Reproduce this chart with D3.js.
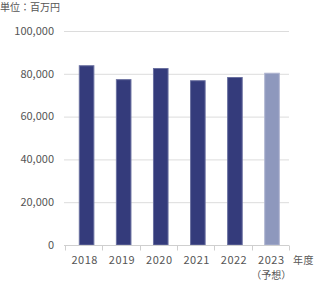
<!DOCTYPE html>
<html>
  <head>
    <meta charset="utf-8">
    <style>
    body {
      font-family: "Noto Sans CJK JP", "Noto Sans", sans-serif;
      margin: 0;
      background: #fff;
    }
    </style>
  </head>
  <body>
    <script src="https://d3js.org/d3.v7.min.js"></script>
    <script>
    var years = ["2018", "2019", "2020", "2021", "2022", "2023"];
    var subLabels = ["", "", "", "", "", "（予想）"];
    var values = [84000, 77500, 82700, 77000, 78500, 80500];
    var forecast = [false, false, false, false, false, true];
    var yTicks = [0, 20000, 40000, 60000, 80000, 100000];

    var width = 320, height = 290;
    var margin = {top: 31, right: 31, bottom: 45, left: 65};

    var svg = d3.select("body").append("svg")
        .attr("width", width)
        .attr("height", height);

    var x = d3.scaleBand()
        .domain(years)
        .range([margin.left, width - margin.right])
        .paddingInner(0.58)
        .paddingOuter(0.31)
        .align(0.6);

    var y = d3.scaleLinear()
        .domain([0, 100000])
        .range([height - margin.bottom, margin.top]);

    // gridlines
    svg.append("g")
        .selectAll("line")
        .data(yTicks.slice(1))
        .enter().append("line")
        .attr("x1", margin.left - 1)
        .attr("x2", width - margin.right)
        .attr("y1", function(d) { return y(d) + 0.5; })
        .attr("y2", function(d) { return y(d) + 0.5; })
        .attr("stroke", "#dcdcdc")
        .attr("stroke-width", 1);

    // y labels
    svg.append("g")
        .selectAll("text")
        .data(yTicks)
        .enter().append("text")
        .attr("x", 54)
        .attr("y", function(d) { return y(d); })
        .attr("dy", "0.35em")
        .attr("text-anchor", "end")
        .style("font-size", "11px")
        .style("fill", "#555")
        .text(function(d) { return d3.format(",")(d); });

    // bars
    svg.append("g")
        .selectAll("rect")
        .data(values)
        .enter().append("rect")
        .attr("x", function(d, i) { return x(years[i]) + 0.5; })
        .attr("y", function(d) { return y(d) + 0.5; })
        .attr("width", x.bandwidth() - 1)
        .attr("height", function(d) { return y(0) - y(d) - 0.5; })
        .attr("fill", function(d, i) { return forecast[i] ? "#8e98bd" : "#343b7b"; })
        .attr("stroke", function(d, i) { return forecast[i] ? "#aeb4d0" : "#6a70a0"; })
        .attr("stroke-width", 1);

    // baseline + ticks
    var base = y(0) + 0.5;
    svg.append("line")
        .attr("x1", margin.left - 1)
        .attr("x2", width - margin.right)
        .attr("y1", base).attr("y2", base)
        .attr("stroke", "#cfcfcf");

    var tickXs = d3.range(years.length + 1).map(function(i) { return margin.left + i * (width - margin.left - margin.right) / years.length; });
    svg.append("g")
        .selectAll("line")
        .data(tickXs)
        .enter().append("line")
        .attr("x1", function(d) { return Math.round(d) + 0.5; })
        .attr("x2", function(d) { return Math.round(d) + 0.5; })
        .attr("y1", base)
        .attr("y2", base + 5)
        .attr("stroke", "#cfcfcf");

    // x labels
    var xl = svg.append("g");
    xl.selectAll("text.year")
        .data(years)
        .enter().append("text")
        .attr("class", "year")
        .attr("x", function(d, i) { return (tickXs[i] + tickXs[i + 1]) / 2 + 1; })
        .attr("y", 260.5)
        .attr("dy", "0.35em")
        .attr("text-anchor", "middle")
        .style("font-size", "11px")
        .style("letter-spacing", "0.5px")
        .style("fill", "#555")
        .text(function(d) { return d; });

    xl.selectAll("text.sub")
        .data(subLabels)
        .enter().append("text")
        .attr("class", "sub")
        .attr("x", function(d, i) { return (tickXs[i] + tickXs[i + 1]) / 2 + 1; })
        .attr("y", 275)
        .attr("dy", "0.35em")
        .attr("text-anchor", "middle")
        .style("font-size", "10px")
        .style("fill", "#555")
        .text(function(d) { return d; });

    svg.append("text")
        .attr("x", 293)
        .attr("y", 260.5)
        .attr("dy", "0.35em")
        .style("font-size", "10px")
        .style("letter-spacing", "0.5px")
        .style("fill", "#555")
        .text("年度");

    svg.append("text")
        .attr("x", 0)
        .attr("y", 7)
        .attr("dy", "0.35em")
        .style("font-size", "10px")
        .style("fill", "#555")
        .text("単位：百万円");
    </script>
  </body>
</html>
